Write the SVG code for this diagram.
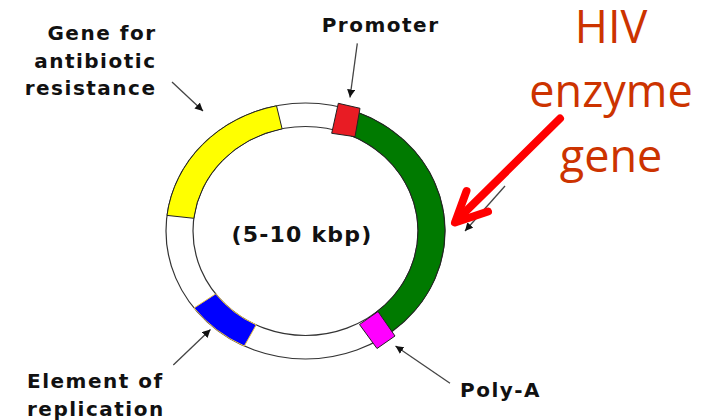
<svg xmlns="http://www.w3.org/2000/svg" width="709" height="420" viewBox="0 0 709 420">
<style>
.lbl{font-family:"DejaVu Sans",Verdana,sans-serif;font-weight:bold;font-size:20px;letter-spacing:1.5px;fill:#111}
.hiv{font-family:"Open Sans","Liberation Sans",sans-serif;font-size:45px;fill:#cc3300;text-anchor:middle}
.seg{stroke:#222;stroke-width:1}
.ptr{stroke:#444;stroke-width:1.3;fill:none;marker-end:url(#ah)}
</style>
<defs>
<marker id="ah" markerUnits="userSpaceOnUse" markerWidth="10" markerHeight="10" refX="8" refY="4" orient="auto">
<path d="M0,0 L8,4 L0,8 z" fill="#111"/>
</marker>
</defs>
<rect width="709" height="420" fill="#fff"/>
<g id="plasmid">
<ellipse cx="305.5" cy="231" rx="139.5" ry="128" fill="#fff" stroke="#333" stroke-width="1.2"/>
<ellipse cx="305.5" cy="231" rx="112.5" ry="104.5" fill="#fff" stroke="#333" stroke-width="1.2"/>
</g>
<g id="antibiotic-gene">
<path class="seg" fill="#ffff00" d="M167.0,215.4 A139.5,128 0 0 1 276.5,105.8 L282.1,128.8 A112.5,104.5 0 0 0 193.8,218.3 Z"/>
</g>
<g id="hiv-gene">
<path class="seg" fill="#007a00" d="M355.5,111.5 A139.5,128 0 0 1 389.5,333.2 L373.2,314.5 A112.5,104.5 0 0 0 345.8,133.4 Z"/>
</g>
<g id="promoter">
<path class="seg" fill="#e81c24" d="M338.3,103.3 L360,108.3 L355,136.7 L331.7,133.3 Z"/>
</g>
<g id="poly-a">
<path class="seg" fill="#ff00ff" d="M359.5,324.5 L378,311.5 L395,336 L377,348.5 Z"/>
</g>
<g id="replication">
<path fill="#0000ff" stroke="#e8c040" stroke-width="1" d="M244.3,346.0 A139.5,128 0 0 1 194.1,308.0 L215.7,293.9 A112.5,104.5 0 0 0 256.2,324.9 Z"/>
</g>
<g id="size-label">
<text class="lbl" x="302" y="242" font-size="22" text-anchor="middle" style="font-size:22px;letter-spacing:1.2px">(5-10 kbp)</text>
</g>
<g id="label-antibiotic">
<text class="lbl" text-anchor="end" x="156.5" y="40">Gene for</text>
<text class="lbl" text-anchor="end" x="156.5" y="67.5">antibiotic</text>
<text class="lbl" text-anchor="end" x="156.5" y="95">resistance</text>
</g>
<g id="label-promoter">
<text class="lbl" x="321.7" y="31.7">Promoter</text>
</g>
<g id="label-replication">
<text class="lbl" x="27" y="388">Element of</text>
<text class="lbl" x="27" y="416">replication</text>
</g>
<g id="label-polya">
<text class="lbl" x="460" y="396.5">Poly-A</text>
</g>
<g id="label-hiv">
<text class="hiv" x="611" y="43.3">HIV</text>
<text class="hiv" x="611" y="107.3">enzyme</text>
<text class="hiv" x="611" y="171.7">gene</text>
</g>
<g id="connectors">
<line class="ptr" x1="172" y1="82" x2="203" y2="111"/>
<line class="ptr" x1="357.3" y1="43.3" x2="350" y2="97.5"/>
<line class="ptr" x1="450" y1="383.3" x2="395.5" y2="346"/>
<line class="ptr" x1="173.3" y1="365" x2="210.5" y2="329.5"/>
<line class="ptr" x1="505" y1="186" x2="465" y2="231"/>
<g stroke="#ff0000" stroke-width="8" stroke-linecap="round" stroke-linejoin="round" fill="none">
<line x1="560" y1="118.5" x2="456" y2="221"/>
<polyline points="466.5,191 455,222.5 488,211.5"/>
</g>
</g>
</svg>
